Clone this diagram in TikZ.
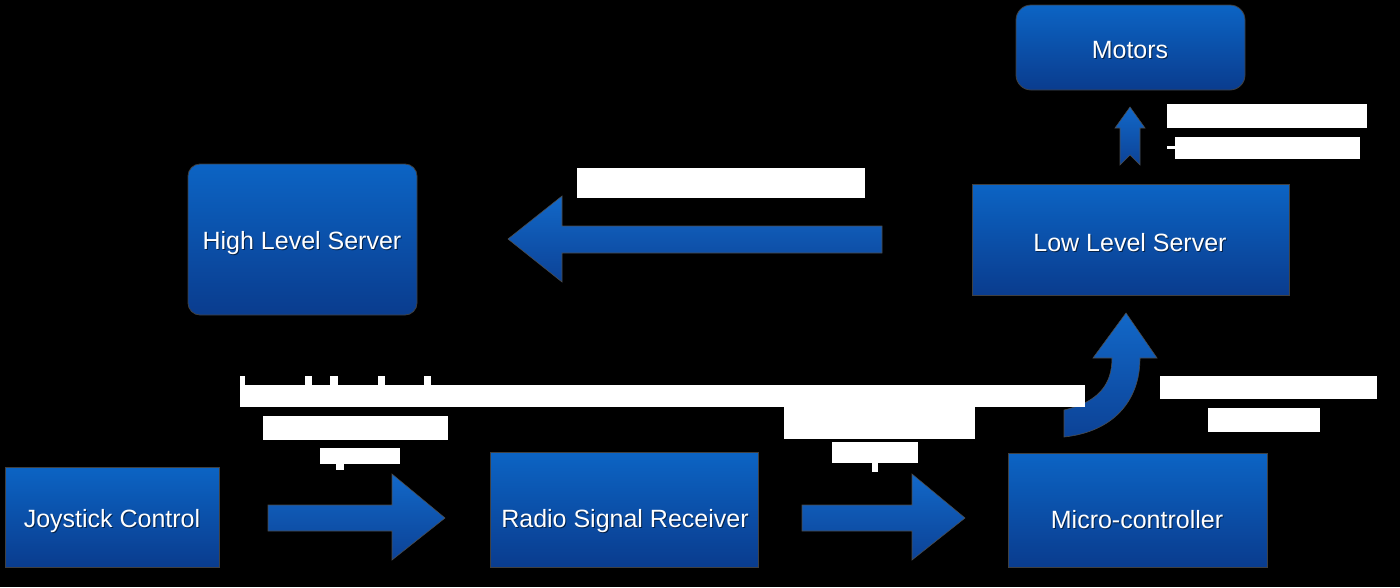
\documentclass[tikz,border=0pt]{standalone}
\usepackage{fontspec}
\setmainfont{Liberation Sans}
\definecolor{boxtop}{RGB}{12,100,196}
\definecolor{boxbot}{RGB}{10,60,142}
\definecolor{arrtop}{RGB}{18,104,200}
\definecolor{arrbot}{RGB}{12,66,150}
\begin{document}
\begin{tikzpicture}[x=1pt,y=-1pt,
  boxnode/.style={rectangle, draw=black!75, line width=0.8pt, top color=boxtop, bottom color=boxbot, inner sep=0pt},
  lbl/.style={text=white, font=\fontsize{25}{30}\selectfont, inner sep=0pt},
  lblshadow/.style={text=black, opacity=0.55, font=\fontsize{25}{30}\selectfont, inner sep=0pt},
  blockarrow/.style={top color=arrtop, bottom color=arrbot, draw=black!70, line width=0.6pt},
  blob/.style={fill=white}]
\fill[black] (0,0) rectangle (1400,587);
\useasboundingbox (0,0) rectangle (1400,587);

% boxes
\node[boxnode, minimum width=214pt, minimum height=100pt] (js) at (112,517) {};
\node[boxnode, minimum width=268pt, minimum height=115pt] (radio) at (624,509.5) {};
\node[boxnode, minimum width=259pt, minimum height=114pt] (micro) at (1137.5,510) {};
\node[boxnode, minimum width=317pt, minimum height=111pt] (low) at (1130.5,239.5) {};
\node[boxnode, rounded corners=12pt, minimum width=229pt, minimum height=151pt] (high) at (302.5,239.5) {};
\node[boxnode, rounded corners=15pt, minimum width=229pt, minimum height=85pt] (motors) at (1130.5,47.5) {};

% labels
\foreach \n/\p/\t in {jss/{(113,522)}/Joystick Control, radios/{(626,522)}/Radio Signal Receiver, micros/{(1138,521)}/Micro-controller, lows/{(1131,244)}/Low Level Server, highs/{(303,244)}/High Level Server, motorss/{(1131,51)}/Motors}
  \node[lblshadow] (\n) at \p {\t};
\node[lbl] (jst) at (112,521) {Joystick Control};
\node[lbl] (radiot) at (625,521) {Radio Signal Receiver};
\node[lbl] (microt) at (1137,520) {Micro-controller};
\node[lbl] (lowt) at (1130,243) {Low Level Server};
\node[lbl] (hight) at (302,243) {High Level Server};
\node[lbl] (motorst) at (1130,50) {Motors};

% block arrows
\path[blockarrow] (268,505) -- (392,505) -- (392,474) -- (445,518) -- (392,560) -- (392,531) -- (268,531) -- cycle;
\path[blockarrow] (802,505) -- (912,505) -- (912,474) -- (965,518) -- (912,560) -- (912,531) -- (802,531) -- cycle;
\path[blockarrow] (882,226) -- (562,226) -- (562,196) -- (508,239) -- (562,282) -- (562,253) -- (882,253) -- cycle;
\path[blockarrow] (1120,165) -- (1120,128) -- (1115,128) -- (1130,107) -- (1145,128) -- (1140,128) -- (1140,165) -- (1130,155) -- cycle;
\path[blockarrow] (1064,410) .. controls (1098,402) and (1112,385) .. (1112,358) -- (1093,358) -- (1126,313) -- (1157,358) -- (1140,358) .. controls (1140,402) and (1112,432) .. (1064,437) -- cycle;

% white label blocks
\fill[blob] (1167,104) rectangle (1367,128);
\fill[blob] (1175,137) rectangle (1360,159);
\fill[blob] (1167,146) rectangle (1175,149);
\fill[blob] (577,168) rectangle (865,198);
\fill[blob] (240,385) rectangle (1085,407);
\fill[blob] (240,376) rectangle (245,385);
\fill[blob] (305,376) rectangle (312,385);
\fill[blob] (330,376) rectangle (338,385);
\fill[blob] (378,376) rectangle (385,385);
\fill[blob] (424,376) rectangle (431,385);
\fill[blob] (263,416) rectangle (448,440);
\fill[blob] (320,448) rectangle (400,464);
\fill[blob] (336,464) rectangle (344,470);
\fill[blob] (784,407) rectangle (975,439);
\fill[blob] (832,442) rectangle (918,463);
\fill[blob] (872,463) rectangle (878,472);
\fill[blob] (1160,376) rectangle (1377,399);
\fill[blob] (1208,408) rectangle (1320,432);
\end{tikzpicture}
\end{document}
